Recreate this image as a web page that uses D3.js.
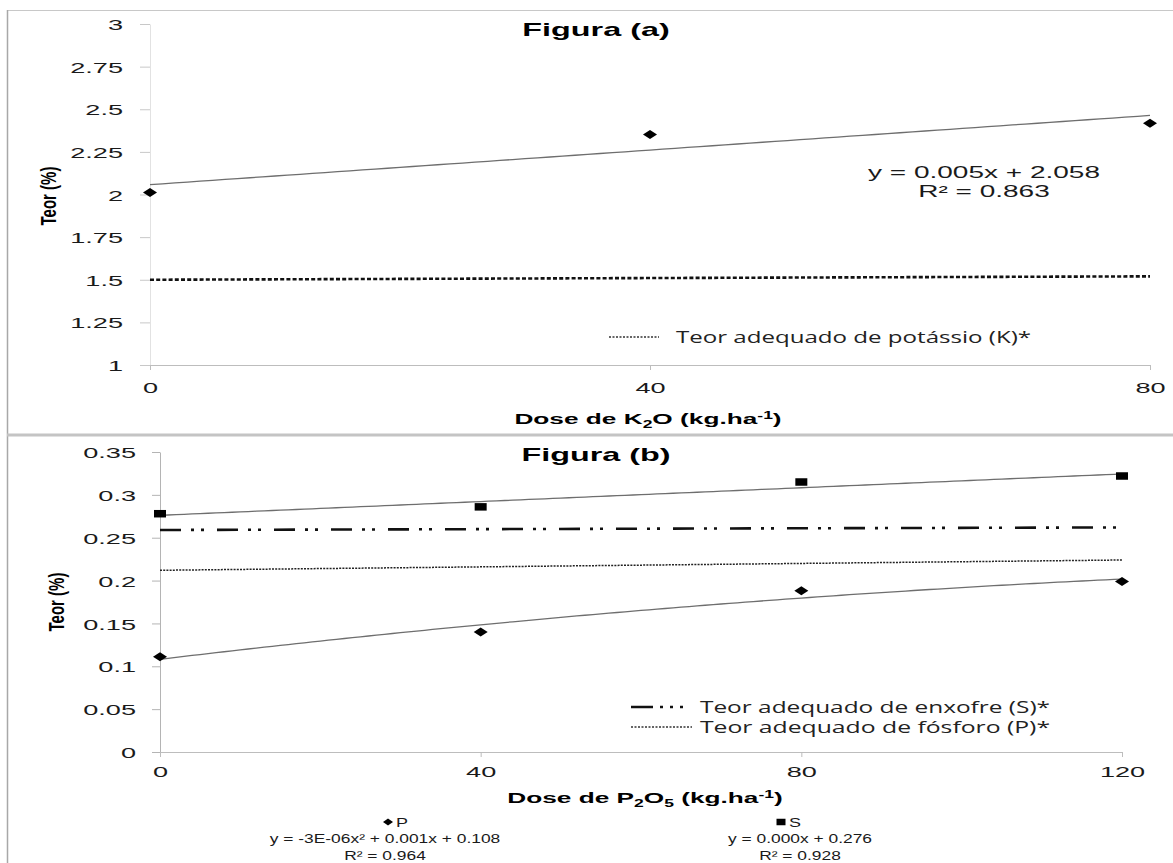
<!DOCTYPE html>
<html>
<head>
<meta charset="utf-8">
<script src="https://cdn.jsdelivr.net/npm/d3@7"></script>
<style>
  html, body { margin: 0; padding: 0; background: #fff; }
  svg { display: block; }
</style>
</head>
<body>
<svg id="chart" width="1173" height="863"></svg>
<script>
// ---------------- data ----------------
// Figura (a): potassium content vs K2O dose
const dosesK = [0, 40, 80];
const teorK = [2.012, 2.352, 2.418];
const refKDoses = [0, 80];
const refK = [1.50, 1.52];
const xTicksA = [0, 40, 80];
const yTicksA = [1, 1.25, 1.5, 1.75, 2, 2.25, 2.5, 2.75, 3];
const eqK = ["y = 0.005x + 2.058", "R² = 0.863"];
const legendA = ["Teor adequado de potássio (K)*"];

// Figura (b): phosphorus and sulphur content vs P2O5 dose
const dosesP = [0, 40, 80, 120];
const teorP = [0.111, 0.140, 0.188, 0.199];
const teorS = [0.278, 0.286, 0.315, 0.322];
const refDosesB = [0, 120];
const refS = [0.259, 0.262];
const refP = [0.212, 0.224];
const xTicksB = [0, 40, 80, 120];
const yTicksB = [0, 0.05, 0.1, 0.15, 0.2, 0.25, 0.3, 0.35];
const eqP = ["y = -3E-06x² + 0.001x + 0.108", "R² = 0.964"];
const eqS = ["y = 0.000x + 0.276", "R² = 0.928"];
const legendB = ["Teor adequado de enxofre (S)*", "Teor adequado de fósforo (P)*"];
const seriesNames = ["P", "S"];

// ---------------- helpers ----------------
const FONT = "'Liberation Sans', Arial, sans-serif";
const LEG_FONT = "'Open Sans', 'Liberation Sans', sans-serif";
const SX = 1.75;               // horizontal stretch of the lettering
const svg = d3.select("#chart");

function stext(g, x, y, str, o = {}) {
  return g.append("text")
    .attr("transform", `translate(${x},${y}) scale(${o.sx || SX},1)`)
    .attr("text-anchor", o.anchor || "middle")
    .style("font-family", o.family || FONT)
    .style("font-size", (o.size || 15.5) + "px")
    .style("font-weight", o.weight || "normal")
    .attr("fill", o.color || "#1a1a1a")
    .text(str);
}

// least squares straight line
function linearFit(xs, ys) {
  const mx = d3.mean(xs), my = d3.mean(ys);
  let sxy = 0, sxx = 0;
  xs.forEach((x, i) => { sxy += (x - mx) * (ys[i] - my); sxx += (x - mx) ** 2; });
  const b = sxy / sxx;
  return x => my + b * (x - mx);
}
// least squares parabola (normal equations, Gaussian elimination)
function quadFit(xs, ys) {
  const S = k => d3.sum(xs, x => x ** k);
  const T = k => d3.sum(xs, (x, i) => x ** k * ys[i]);
  const m = [[S(0), S(1), S(2), T(0)], [S(1), S(2), S(3), T(1)], [S(2), S(3), S(4), T(2)]];
  for (let c = 0; c < 3; c++) {
    for (let r = c + 1; r < 3; r++) {
      const f = m[r][c] / m[c][c];
      for (let k = c; k < 4; k++) m[r][k] -= f * m[c][k];
    }
  }
  const z = [0, 0, 0];
  for (let r = 2; r >= 0; r--) {
    let s = m[r][3];
    for (let k = r + 1; k < 3; k++) s -= m[r][k] * z[k];
    z[r] = s / m[r][r];
  }
  return x => z[0] + z[1] * x + z[2] * x * x;
}

function diamond(w, h) { return `M${-w / 2},0L0,${-h / 2}L${w / 2},0L0,${h / 2}Z`; }
function square(w, h) { return `M${-w / 2},${-h / 2}h${w}v${h}h${-w}Z`; }

// ---------------- frame ----------------
svg.append("line").attr("x1", 7).attr("x2", 1173).attr("y1", 10.5).attr("y2", 10.5)
  .attr("stroke", "#c8c8c8").attr("stroke-width", 1.2);
svg.append("line").attr("x1", 7.5).attr("x2", 7.5).attr("y1", 10).attr("y2", 863)
  .attr("stroke", "#a8a8a8").attr("stroke-width", 1.5);
svg.append("line").attr("x1", 7).attr("x2", 1173).attr("y1", 435).attr("y2", 435)
  .attr("stroke", "#c4c4c4").attr("stroke-width", 3);

// ---------------- Figura (a) ----------------
const gA = svg.append("g");
const xA = d3.scaleLinear().domain([0, 80]).range([150, 1150]);
const yA = d3.scaleLinear().domain([1, 3]).range([365, 24]);

// y axis
const axA = gA.append("g").attr("transform", `translate(${xA(0)},0)`)
  .call(d3.axisLeft(yA).tickValues(yTicksA).tickSize(10).tickSizeOuter(0).tickFormat(d => String(d)));
axA.select(".domain").attr("stroke", "#e2e2e2");
axA.selectAll(".tick line").attr("stroke", "#c8c8c8");
axA.selectAll(".tick text")
  .attr("x", -27 / SX).attr("dy", "0.36em")
  .attr("transform", `scale(${SX},1)`)
  .style("font-family", FONT).style("font-size", "15.5px").attr("fill", "#1a1a1a");

// x axis
const axAx = gA.append("g").attr("transform", `translate(0,${yA(1)})`)
  .call(d3.axisBottom(xA).tickValues(xTicksA).tickSize(5).tickSizeOuter(0).tickFormat(d => String(d)));
axAx.select(".domain").attr("stroke", "#bdbdbd");
axAx.selectAll(".tick line").attr("stroke", "#bdbdbd");
axAx.selectAll(".tick text")
  .attr("y", 28).attr("dy", 0)
  .attr("transform", `scale(${SX},1)`)
  .style("font-family", FONT).style("font-size", "15.5px").attr("fill", "#1a1a1a");

// adequate level (dotted)
gA.append("path")
  .datum(refKDoses.map((d, i) => [d, refK[i]]))
  .attr("d", d3.line().x(d => xA(d[0])).y(d => yA(d[1])))
  .attr("fill", "none").attr("stroke", "#111").attr("stroke-width", 2.6)
  .attr("stroke-dasharray", "4,2.2");

// trendline
const fitK = linearFit(dosesK, teorK);
gA.append("path")
  .datum(d3.range(0, 80.5, 1))
  .attr("d", d3.line().x(d => xA(d)).y(d => yA(fitK(d))))
  .attr("fill", "none").attr("stroke", "#6e6e6e").attr("stroke-width", 1.3);

// points
gA.selectAll(".ptK").data(dosesK).join("path")
  .attr("transform", (d, i) => `translate(${xA(d)},${yA(teorK[i])})`)
  .attr("d", diamond(14, 9)).attr("fill", "#000");

// texts
stext(gA, 596, 35.5, "Figura (a)", { size: 18.5, weight: "bold", color: "#000" });
eqK.forEach((s, i) => stext(gA, 984, 178 + i * 19, s, { size: 16 }));

gA.append("text")
  .attr("transform", `translate(48,196) scale(1.45,1) rotate(-90)`)
  .attr("text-anchor", "middle").attr("dy", "0.35em")
  .style("font-family", FONT).style("font-size", "15px").style("font-weight", "bold")
  .attr("fill", "#000").text("Teor (%)");

const xtA = stext(gA, 648, 424, "", { size: 15, weight: "bold", color: "#000" });
xtA.append("tspan").text("Dose de K");
xtA.append("tspan").attr("dy", 4).style("font-size", "10px").text("2");
xtA.append("tspan").attr("dy", -4).text("O (kg.ha");
xtA.append("tspan").attr("dy", -5).style("font-size", "10px").text("-1");
xtA.append("tspan").attr("dy", 5).text(")");

// legend
gA.append("line").attr("x1", 609).attr("x2", 659).attr("y1", 337).attr("y2", 337)
  .attr("stroke", "#333").attr("stroke-width", 1.5).attr("stroke-dasharray", "2,1.5");
gA.append("text").attr("x", 676).attr("y", 342.5)
  .attr("textLength", 355).attr("lengthAdjust", "spacingAndGlyphs")
  .style("font-family", LEG_FONT).style("font-size", "16px").attr("fill", "#222")
  .text(legendA[0]);

// ---------------- Figura (b) ----------------
const gB = svg.append("g");
const xB = d3.scaleLinear().domain([0, 120]).range([160, 1122]);
const yB = d3.scaleLinear().domain([0, 0.35]).range([752, 452]);

const axB = gB.append("g").attr("transform", `translate(${xB(0)},0)`)
  .call(d3.axisLeft(yB).tickValues(yTicksB).tickSize(8).tickSizeOuter(0).tickFormat(d => String(d)));
axB.select(".domain").attr("stroke", "#b4b4b4");
axB.selectAll(".tick line").attr("stroke", "#b4b4b4");
axB.selectAll(".tick text")
  .attr("x", -24 / SX).attr("dy", "0.36em")
  .attr("transform", `scale(${SX},1)`)
  .style("font-family", FONT).style("font-size", "15.5px").attr("fill", "#1a1a1a");

const axBx = gB.append("g").attr("transform", `translate(0,${yB(0)})`)
  .call(d3.axisBottom(xB).tickValues(xTicksB).tickSize(5).tickSizeOuter(0).tickFormat(d => String(d)));
axBx.select(".domain").attr("stroke", "#bdbdbd");
axBx.selectAll(".tick line").attr("stroke", "#bdbdbd");
axBx.selectAll(".tick text")
  .attr("y", 25).attr("dy", 0)
  .attr("transform", `scale(${SX},1)`)
  .style("font-family", FONT).style("font-size", "15.5px").attr("fill", "#1a1a1a");

// adequate levels
const lineB = d3.line().x(d => xB(d[0])).y(d => yB(d[1]));
gB.append("path")
  .datum(refDosesB.map((d, i) => [d, refS[i]]))
  .attr("d", lineB)
  .attr("fill", "none").attr("stroke", "#111").attr("stroke-width", 2.6)
  .attr("stroke-dasharray", "21,10,3,7,3,13");
gB.append("path")
  .datum(refDosesB.map((d, i) => [d, refP[i]]))
  .attr("d", lineB)
  .attr("fill", "none").attr("stroke", "#222").attr("stroke-width", 1.5)
  .attr("stroke-dasharray", "2,1.2");

// trendlines
const fitS = linearFit(dosesP, teorS);
const fitP = quadFit(dosesP, teorP);
[fitS, fitP].forEach(f => {
  gB.append("path")
    .datum(d3.range(0, 120.5, 1))
    .attr("d", d3.line().x(d => xB(d)).y(d => yB(f(d))))
    .attr("fill", "none").attr("stroke", "#6e6e6e").attr("stroke-width", 1.3);
});

// points
gB.selectAll(".ptS").data(dosesP).join("path")
  .attr("transform", (d, i) => `translate(${xB(d)},${yB(teorS[i])})`)
  .attr("d", square(12, 7.5)).attr("fill", "#000");
gB.selectAll(".ptP").data(dosesP).join("path")
  .attr("transform", (d, i) => `translate(${xB(d)},${yB(teorP[i])})`)
  .attr("d", diamond(14, 9)).attr("fill", "#000");

// texts
stext(gB, 596, 461, "Figura (b)", { size: 18.5, weight: "bold", color: "#000" });

gB.append("text")
  .attr("transform", `translate(56,602) scale(1.45,1) rotate(-90)`)
  .attr("text-anchor", "middle").attr("dy", "0.35em")
  .style("font-family", FONT).style("font-size", "15px").style("font-weight", "bold")
  .attr("fill", "#000").text("Teor (%)");

const xtB = stext(gB, 645, 803, "", { size: 15, weight: "bold", color: "#000" });
xtB.append("tspan").text("Dose de P");
xtB.append("tspan").attr("dy", 4).style("font-size", "10px").text("2");
xtB.append("tspan").attr("dy", -4).text("O");
xtB.append("tspan").attr("dy", 4).style("font-size", "10px").text("5");
xtB.append("tspan").attr("dy", -4).text(" (kg.ha");
xtB.append("tspan").attr("dy", -5).style("font-size", "10px").text("-1");
xtB.append("tspan").attr("dy", 5).text(")");

// legend of adequate levels
gB.append("line").attr("x1", 631).attr("x2", 692).attr("y1", 707).attr("y2", 707)
  .attr("stroke", "#111").attr("stroke-width", 2.4).attr("stroke-dasharray", "22,7,3,7,3,7,3,30");
gB.append("line").attr("x1", 631).attr("x2", 692).attr("y1", 727).attr("y2", 727)
  .attr("stroke", "#333").attr("stroke-width", 1.5).attr("stroke-dasharray", "2,1.5");
legendB.forEach((s, i) => {
  gB.append("text").attr("x", 700).attr("y", 712.5 + i * 20)
    .attr("textLength", 350).attr("lengthAdjust", "spacingAndGlyphs")
    .style("font-family", LEG_FONT).style("font-size", "16px").attr("fill", "#222")
    .text(s);
});

// series legend with equations
const cols = [
  { cx: 385, mx: 388, tx: 396, shape: diamond(10, 7), eq: eqP },
  { cx: 800, mx: 781, tx: 789, shape: square(9, 6.5), eq: eqS }
];
cols.forEach((c, i) => {
  gB.append("path").attr("transform", `translate(${c.mx},822)`).attr("d", c.shape).attr("fill", "#000");
  stext(gB, c.tx, 826.5, seriesNames[i], { size: 12, anchor: "start", sx: 1.5 });
  c.eq.forEach((s, k) => stext(gB, c.cx, 842.5 + k * 17, s, { size: 12, sx: 1.45 }));
});
</script>
</body>
</html>
